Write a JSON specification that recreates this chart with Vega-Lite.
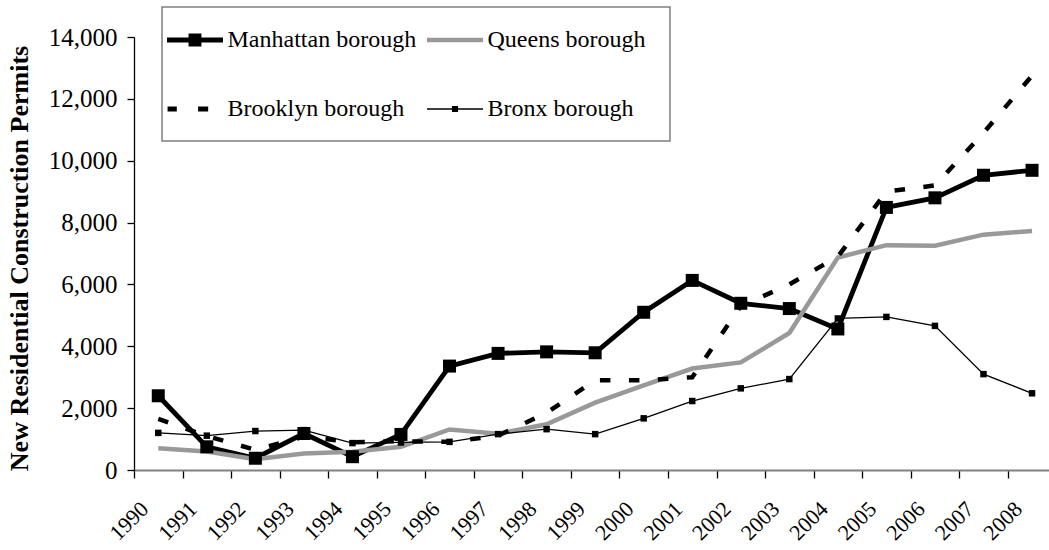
{
  "$schema": "https://vega.github.io/schema/vega-lite/v6.json",
  "autosize": {"type": "none"},
  "width": 915,
  "height": 433,
  "padding": {"left": 134, "top": 37, "right": 0, "bottom": 80},
  "background": "white",
  "config": {
    "view": {"stroke": null},
    "font": "Liberation Serif, Times New Roman, serif",
    "axis": {"labelFont": "Liberation Serif, Times New Roman, serif", "titleFont": "Liberation Serif, Times New Roman, serif"},
    "legend": {"labelFont": "Liberation Serif, Times New Roman, serif", "strokeWidth": 1.5}
  },
  "datasets": {
    "permits": [
      {"year": 1990, "borough": "Manhattan borough", "permits": 2400},
      {"year": 1991, "borough": "Manhattan borough", "permits": 750},
      {"year": 1992, "borough": "Manhattan borough", "permits": 380},
      {"year": 1993, "borough": "Manhattan borough", "permits": 1180},
      {"year": 1994, "borough": "Manhattan borough", "permits": 430},
      {"year": 1995, "borough": "Manhattan borough", "permits": 1150},
      {"year": 1996, "borough": "Manhattan borough", "permits": 3360},
      {"year": 1997, "borough": "Manhattan borough", "permits": 3770},
      {"year": 1998, "borough": "Manhattan borough", "permits": 3820},
      {"year": 1999, "borough": "Manhattan borough", "permits": 3790},
      {"year": 2000, "borough": "Manhattan borough", "permits": 5100},
      {"year": 2001, "borough": "Manhattan borough", "permits": 6130},
      {"year": 2002, "borough": "Manhattan borough", "permits": 5390},
      {"year": 2003, "borough": "Manhattan borough", "permits": 5220},
      {"year": 2004, "borough": "Manhattan borough", "permits": 4560},
      {"year": 2005, "borough": "Manhattan borough", "permits": 8490},
      {"year": 2006, "borough": "Manhattan borough", "permits": 8800},
      {"year": 2007, "borough": "Manhattan borough", "permits": 9530},
      {"year": 2008, "borough": "Manhattan borough", "permits": 9690},
      {"year": 1990, "borough": "Queens borough", "permits": 700},
      {"year": 1991, "borough": "Queens borough", "permits": 600},
      {"year": 1992, "borough": "Queens borough", "permits": 345},
      {"year": 1993, "borough": "Queens borough", "permits": 530},
      {"year": 1994, "borough": "Queens borough", "permits": 590},
      {"year": 1995, "borough": "Queens borough", "permits": 750},
      {"year": 1996, "borough": "Queens borough", "permits": 1310},
      {"year": 1997, "borough": "Queens borough", "permits": 1170},
      {"year": 1998, "borough": "Queens borough", "permits": 1480},
      {"year": 1999, "borough": "Queens borough", "permits": 2180},
      {"year": 2000, "borough": "Queens borough", "permits": 2740},
      {"year": 2001, "borough": "Queens borough", "permits": 3280},
      {"year": 2002, "borough": "Queens borough", "permits": 3480},
      {"year": 2003, "borough": "Queens borough", "permits": 4430},
      {"year": 2004, "borough": "Queens borough", "permits": 6870},
      {"year": 2005, "borough": "Queens borough", "permits": 7270},
      {"year": 2006, "borough": "Queens borough", "permits": 7250},
      {"year": 2007, "borough": "Queens borough", "permits": 7610},
      {"year": 2008, "borough": "Queens borough", "permits": 7730},
      {"year": 1990, "borough": "Brooklyn borough", "permits": 1650},
      {"year": 1991, "borough": "Brooklyn borough", "permits": 1100},
      {"year": 1992, "borough": "Brooklyn borough", "permits": 650},
      {"year": 1993, "borough": "Brooklyn borough", "permits": 1080},
      {"year": 1994, "borough": "Brooklyn borough", "permits": 900},
      {"year": 1995, "borough": "Brooklyn borough", "permits": 930},
      {"year": 1996, "borough": "Brooklyn borough", "permits": 910},
      {"year": 1997, "borough": "Brooklyn borough", "permits": 1110},
      {"year": 1998, "borough": "Brooklyn borough", "permits": 1850},
      {"year": 1999, "borough": "Brooklyn borough", "permits": 2900},
      {"year": 2000, "borough": "Brooklyn borough", "permits": 2900},
      {"year": 2001, "borough": "Brooklyn borough", "permits": 3000},
      {"year": 2002, "borough": "Brooklyn borough", "permits": 5300},
      {"year": 2003, "borough": "Brooklyn borough", "permits": 6000},
      {"year": 2004, "borough": "Brooklyn borough", "permits": 6900},
      {"year": 2005, "borough": "Brooklyn borough", "permits": 9000},
      {"year": 2006, "borough": "Brooklyn borough", "permits": 9200},
      {"year": 2007, "borough": "Brooklyn borough", "permits": 10900},
      {"year": 2008, "borough": "Brooklyn borough", "permits": 12750},
      {"year": 1990, "borough": "Bronx borough", "permits": 1200},
      {"year": 1991, "borough": "Bronx borough", "permits": 1110},
      {"year": 1992, "borough": "Bronx borough", "permits": 1260},
      {"year": 1993, "borough": "Bronx borough", "permits": 1290},
      {"year": 1994, "borough": "Bronx borough", "permits": 870},
      {"year": 1995, "borough": "Bronx borough", "permits": 890},
      {"year": 1996, "borough": "Bronx borough", "permits": 910},
      {"year": 1997, "borough": "Bronx borough", "permits": 1160},
      {"year": 1998, "borough": "Bronx borough", "permits": 1320},
      {"year": 1999, "borough": "Bronx borough", "permits": 1160},
      {"year": 2000, "borough": "Bronx borough", "permits": 1670},
      {"year": 2001, "borough": "Bronx borough", "permits": 2230},
      {"year": 2002, "borough": "Bronx borough", "permits": 2640},
      {"year": 2003, "borough": "Bronx borough", "permits": 2940},
      {"year": 2004, "borough": "Bronx borough", "permits": 4900},
      {"year": 2005, "borough": "Bronx borough", "permits": 4950},
      {"year": 2006, "borough": "Bronx borough", "permits": 4660},
      {"year": 2007, "borough": "Bronx borough", "permits": 3100},
      {"year": 2008, "borough": "Bronx borough", "permits": 2480}
    ]
  },
  "data": {"name": "permits"},
  "encoding": {
    "x": {
      "field": "year",
      "type": "ordinal",
      "scale": {"type": "band", "paddingInner": 0, "paddingOuter": 0, "range": [0, 922.3]},
      "axis": {
        "title": null,
        "labelAngle": -45,
        "labelAlign": "right",
        "labelBaseline": "middle",
        "labelOffset": -14,
        "labelPadding": 27,
        "labelFont": "Liberation Serif, Times New Roman, serif",
        "labelFontSize": 22,
        "labelColor": "black",
        "labelOverlap": false,
        "tickBand": "extent",
        "tickSize": 8,
        "tickColor": "black",
        "tickWidth": 1.3,
        "domainColor": "#808080",
        "domainWidth": 2,
        "grid": false
      }
    },
    "y": {
      "field": "permits",
      "type": "quantitative",
      "scale": {"domain": [0, 14000], "nice": false},
      "axis": {
        "title": "New Residential Construction Permits",
        "titleFont": "Liberation Serif, Times New Roman, serif",
        "titleFontSize": 26,
        "titleFontWeight": "bold",
        "titleColor": "black",
        "titlePadding": 16,
        "titleY": 221,
        "values": [0, 2000, 4000, 6000, 8000, 10000, 12000, 14000],
        "labelExpr": "datum.value == 0 ? '0' : floor(datum.value / 1000) + ',000'",
        "labelFont": "Liberation Serif, Times New Roman, serif",
        "labelFontSize": 25,
        "labelColor": "black",
        "labelPadding": 10,
        "tickSize": 7,
        "tickColor": "black",
        "tickWidth": 1.3,
        "domainColor": "black",
        "domainWidth": 1.3,
        "grid": false
      }
    }
  },
  "layer": [
    {
      "transform": [{"filter": "datum.borough === 'Manhattan borough'"}],
      "mark": {"type": "line", "color": "black", "strokeWidth": 4.8}
    },
    {
      "transform": [{"filter": "datum.borough === 'Queens borough'"}],
      "mark": {"type": "line", "color": "#999999", "strokeWidth": 4.5}
    },
    {
      "transform": [{"filter": "datum.borough === 'Brooklyn borough'"}],
      "mark": {"type": "line", "color": "black", "strokeWidth": 4.5, "strokeDash": [10.5, 18.5]}
    },
    {
      "transform": [{"filter": "datum.borough === 'Bronx borough'"}],
      "mark": {"type": "line", "color": "black", "strokeWidth": 1.3}
    },
    {
      "transform": [{"filter": "datum.borough === 'Manhattan borough'"}],
      "mark": {"type": "square", "color": "black", "filled": true, "opacity": 1, "size": 169}
    },
    {
      "transform": [{"filter": "datum.borough === 'Bronx borough'"}],
      "mark": {"type": "square", "color": "black", "filled": true, "opacity": 1, "size": 42}
    },
    {
      "transform": [{"filter": "datum.permits < 0"}],
      "mark": {"type": "point", "filled": true, "opacity": 1, "strokeWidth": 0},
      "encoding": {
        "color": {
          "field": "borough",
          "type": "nominal",
          "scale": {
            "domain": ["Manhattan borough", "Queens borough", "Brooklyn borough", "Bronx borough"],
            "range": ["#000000", "#999999", "#000000", "#000000"]
          },
          "legend": {
            "title": null,
            "orient": "none",
            "legendX": 28,
            "legendY": -30,
            "columns": 2,
            "direction": "horizontal",
            "labelFont": "Liberation Serif, Times New Roman, serif",
            "labelFontSize": 24,
            "labelColor": "black",
            "labelLimit": 500,
            "labelOffset": 4.5,
            "symbolSize": 3136,
            "symbolStrokeWidth": 0,
            "symbolOpacity": 1,
            "columnPadding": 10,
            "rowPadding": 29,
            "padding": 5,
            "strokeColor": "#7f7f7f",
            "fillColor": "white"
          }
        },
        "shape": {
          "field": "borough",
          "type": "nominal",
          "scale": {
            "domain": ["Manhattan borough", "Queens borough", "Brooklyn borough", "Bronx borough"],
            "range": [
              "M-1,-0.09H1V0.09H-1Z M-0.23,-0.23H0.23V0.23H-0.23Z",
              "M-1,-0.08H1V0.08H-1Z M7.5,0",
              "M-0.98,-0.09H-0.65V0.09H-0.98Z M0.11,-0.09H0.47V0.09H0.11Z M0,0.93",
              "M-1,-0.03H1V0.03H-1Z M-0.11,-0.11H0.11V0.11H-0.11Z M0,0.93"
            ]
          },
          "legend": {
            "title": null,
            "orient": "none",
            "legendX": 28,
            "legendY": -30,
            "columns": 2,
            "direction": "horizontal",
            "labelFont": "Liberation Serif, Times New Roman, serif",
            "labelFontSize": 24,
            "labelColor": "black",
            "labelLimit": 500,
            "labelOffset": 4.5,
            "symbolSize": 3136,
            "symbolStrokeWidth": 0,
            "symbolOpacity": 1,
            "columnPadding": 10,
            "rowPadding": 29,
            "padding": 5,
            "strokeColor": "#7f7f7f",
            "fillColor": "white"
          }
        }
      }
    }
  ]
}
